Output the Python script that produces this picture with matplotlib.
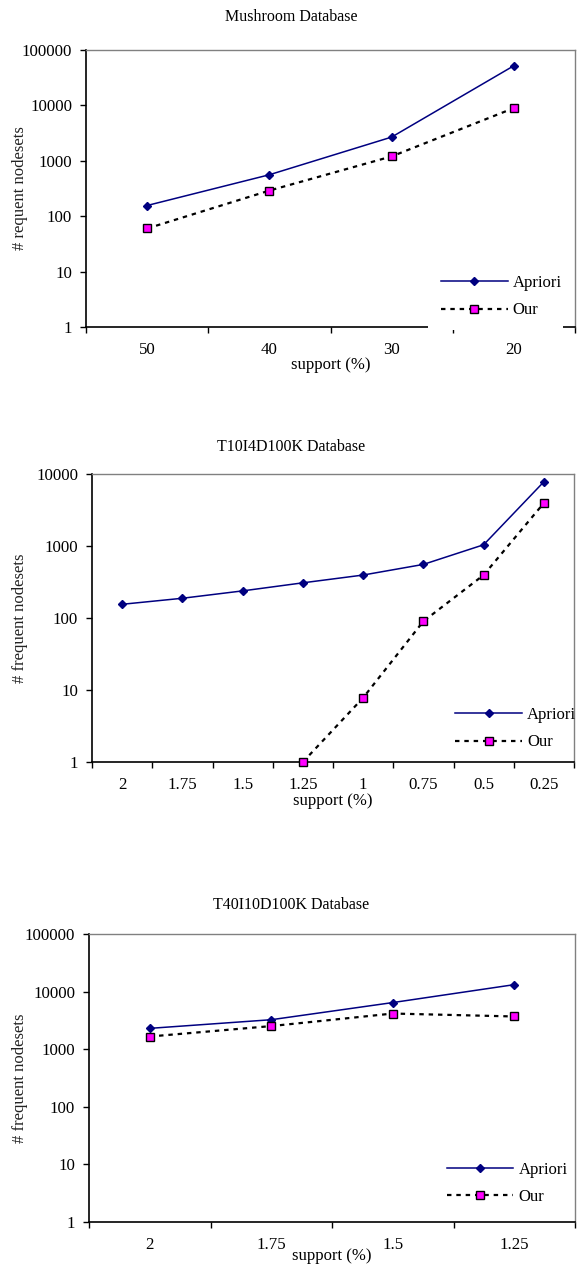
import numpy as np
import matplotlib
matplotlib.use('Agg')
import matplotlib.pyplot as plt
from matplotlib.patches import Rectangle
from matplotlib.ticker import FixedLocator, NullFormatter, NullLocator

plt.rcParams['font.family'] = ['Liberation Serif', 'DejaVu Serif']

# Mushroom
mush_support = ['50', '40', '30', '20']
mush_apriori = [156, 560, 2680, 52000]
mush_our = [60, 290, 1200, 8950]

# T10I4D100K
t10_support = ['2', '1.75', '1.5', '1.25', '1', '0.75', '0.5', '0.25']
t10_apriori = [155, 188, 238, 308, 395, 555, 1040, 7800]
t10_our = [np.nan, np.nan, np.nan, 1, 7.8, 90, 395, 3950]

# T40I10D100K
t40_support = ['2', '1.75', '1.5', '1.25']
t40_apriori = [2300, 3250, 6450, 13200]
t40_our = [1660, 2520, 4160, 3700]

W, H = 578, 1265
fig = plt.figure(figsize=(W / 100, H / 100), dpi=100)


def box(l, t, r, b):
    return [l / W, 1 - b / H, (r - l) / W, (b - t) / H]


def chart(rect, title, title_y, ylabel, cats, apriori, our, ymax,
          xlab_y, leg_x, leg_y, cover=None):
    ax = fig.add_axes(box(*rect))
    x = np.arange(len(cats))
    ax.plot(x, apriori, color='#000080', lw=1.1, marker='D', ms=4.5,
            mfc='#000080', mec='#000080', label='Apriori', clip_on=False, zorder=3)
    ax.plot(x, our, color='black', lw=1.6, ls=(0, (2, 2.2)), marker='s', ms=5.5,
            mfc='#ff00ff', mec='black', mew=1.0, label='Our', clip_on=False, zorder=4)
    ax.set_yscale('log')
    ax.set_ylim(1, ymax)
    ax.set_xlim(-0.5, len(cats) - 0.5)
    decades = [10 ** k for k in range(int(round(np.log10(ymax))) + 1)]
    ax.yaxis.set_major_locator(FixedLocator(decades))
    ax.set_yticklabels([str(d) for d in decades])
    ax.yaxis.set_minor_locator(NullLocator())
    ax.yaxis.set_minor_formatter(NullFormatter())
    ax.set_xticks(np.arange(len(cats) + 1) - 0.5)
    ax.set_xticklabels([])
    ax.set_xticks(x, minor=True)
    ax.set_xticklabels(cats, minor=True)
    ax.tick_params(axis='x', which='minor', length=0, pad=11, labelsize=12.2)
    ax.tick_params(axis='x', which='major', length=4, width=1, direction='out')
    ax.tick_params(axis='y', which='major', length=4, width=1, direction='out',
                   pad=6, labelsize=12.2)
    for s in ['left', 'bottom']:
        ax.spines[s].set_color('black')
        ax.spines[s].set_linewidth(1.2)
    for s in ['top', 'right']:
        ax.spines[s].set_color('#808080')
        ax.spines[s].set_linewidth(1.0)
    fig.text(291 / W, 1 - title_y / H, title, ha='center', va='center', fontsize=11.5)
    fig.text(20 / W, 1 - (rect[1] + rect[3]) / 2 / H, ylabel, rotation=90,
             ha='center', va='center', fontsize=12, color='#222222')
    fig.text((rect[0] + rect[2]) / 2 / W, 1 - xlab_y / H, 'support (%)',
             ha='center', va='center', fontsize=12)
    if cover is not None:
        # white legend area that hides part of the bottom axis
        x0, x1 = cover
        ax.add_patch(Rectangle((x0, -0.012), x1 - x0, 0.2, transform=ax.transAxes,
                               facecolor='white', edgecolor='none',
                               clip_on=False, zorder=6))
    leg = ax.legend(loc='center left', bbox_to_anchor=(leg_x, leg_y),
                    frameon=False, borderpad=0, borderaxespad=0,
                    handlelength=4.0, handletextpad=0.3, labelspacing=0.7,
                    fontsize=12)
    leg.set_zorder(10)
    return ax


chart((86, 50, 575, 327), 'Mushroom Database', 17, '# requent nodesets',
      mush_support, mush_apriori, mush_our, 1e5, 365, 0.726, 0.11,
      cover=(0.699, 0.975))
chart((92, 474, 574, 762), 'T10I4D100K Database', 447, '# frequent nodesets',
      t10_support, t10_apriori, t10_our, 1e4, 801, 0.754, 0.116)
chart((89, 934, 575, 1222), 'T40I10D100K Database', 905, '# frequent nodesets',
      t40_support, t40_apriori, t40_our, 1e5, 1256, 0.736, 0.134)

fig.savefig('out.png', dpi=100)
